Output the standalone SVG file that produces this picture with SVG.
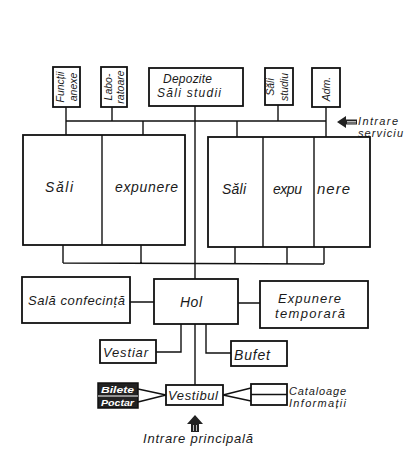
<svg xmlns="http://www.w3.org/2000/svg" width="407" height="458" viewBox="0 0 407 458">
<style>
.b{fill:#fff;stroke:#111;stroke-width:1.8}
.l{stroke:#111;stroke-width:1.4;fill:none}
text{font-family:"Liberation Sans",Arial,sans-serif;font-style:italic;fill:#1a1a1a}
.s10{font-size:10.5px}
.s11{font-size:11px}
.s12{font-size:12px}
.s13{font-size:13px}
.s14{font-size:14px}
.s15{font-size:15px}
.w{fill:#fff;font-size:9.5px;font-weight:bold}
</style>
<rect width="407" height="458" fill="#fff"/>
<g id="connectors">
<path class="l" d="M66,107V135M112,107V121M66,121H326M143,121V135M237,121V137M278,105V121M326,107V137"/>
<path class="l" d="M195,105V279M195,324V385"/>
<path class="l" d="M63,245V263M141,245V263M235,247V264M287,247V264M324,247V264M63,263L324,264"/>
<path class="l" d="M130,302H154M238,303H260"/>
<path class="l" d="M181,324V352H156M206,324V353H231"/>
<path class="l" d="M138,389L166,395L138,402M251,388L223,395L251,401"/>
</g>
<g id="funcții-anexe"><rect class="b" x="53" y="67" width="27" height="40"/>
<text class="s10" transform="translate(64,87) rotate(-90)" text-anchor="middle">Funcții</text>
<text class="s10" transform="translate(77,87) rotate(-90)" text-anchor="middle">anexe</text></g>
<g id="laboratoare"><rect class="b" x="101" y="67" width="26" height="40"/>
<text class="s10" transform="translate(112,87) rotate(-90)" text-anchor="middle">Labo-</text>
<text class="s10" transform="translate(124,87) rotate(-90)" text-anchor="middle">ratoare</text></g>
<g id="depozite"><rect class="b" x="149" y="68" width="94" height="38"/>
<text class="s12" x="163" y="83" textLength="49" lengthAdjust="spacing">Depozite</text>
<text class="s12" x="157" y="97" textLength="64" lengthAdjust="spacing">Săli studii</text></g>
<g id="sali-studiu"><rect class="b" x="265" y="68" width="28" height="37"/>
<text class="s10" transform="translate(274,87) rotate(-90)" text-anchor="middle">Săli</text>
<text class="s10" transform="translate(288,87) rotate(-90)" text-anchor="middle">studiu</text></g>
<g id="adm"><rect class="b" x="312" y="68" width="28" height="39"/>
<text class="s10" transform="translate(330,89) rotate(-90)" text-anchor="middle">Adm.</text></g>
<g id="intrare-serviciu">
<path d="M337,122L346,116V119.5H357V124.5H346V128Z" fill="#222"/>
<path d="M347,121.5H356M347,123H356" stroke="#fff" stroke-width="0.7"/>
<text class="s11" x="358" y="125" textLength="40" lengthAdjust="spacing">Intrare</text>
<text class="s11" x="358" y="137" textLength="45" lengthAdjust="spacing">serviciu</text></g>
<g id="sali-expunere-stanga"><rect class="b" x="23" y="135" width="162" height="110"/>
<path class="l" d="M102,135V245" stroke-width="1.8"/>
<text class="s14" x="45" y="192" textLength="28" lengthAdjust="spacing">Săli</text>
<text class="s14" x="115" y="192" textLength="63" lengthAdjust="spacing">expunere</text></g>
<g id="sali-expunere-dreapta"><rect class="b" x="208" y="137" width="162" height="110"/>
<path class="l" d="M263,137V247M314,137V247" stroke-width="1.8"/>
<text class="s14" x="222" y="194" textLength="24" lengthAdjust="spacing">Săli</text>
<text class="s14" x="273" y="194" textLength="29" lengthAdjust="spacing">expu</text>
<text class="s15" x="317" y="194" textLength="33" lengthAdjust="spacing">nere</text></g>
<g id="sala-conferinta"><rect class="b" x="22" y="277" width="108" height="46"/>
<text class="s13" x="28" y="305" textLength="97" lengthAdjust="spacing">Sală confecință</text></g>
<g id="hol"><rect class="b" x="154" y="279" width="84" height="45"/>
<text class="s14" x="180" y="307" textLength="22" lengthAdjust="spacing">Hol</text></g>
<g id="expunere-temporara"><rect class="b" x="260" y="281" width="108" height="47"/>
<text class="s13" x="278" y="303" textLength="63" lengthAdjust="spacing">Expunere</text>
<text class="s13" x="275" y="318" textLength="70" lengthAdjust="spacing">temporară</text></g>
<g id="vestiar"><rect class="b" x="100" y="340" width="56" height="23"/>
<text class="s13" x="103" y="357" textLength="45" lengthAdjust="spacing">Vestiar</text></g>
<g id="bufet"><rect class="b" x="231" y="341" width="56" height="25"/>
<text class="s14" x="234" y="360" textLength="36" lengthAdjust="spacing">Bufet</text></g>
<g id="bilete-poctar"><rect x="98" y="383" width="40" height="25" fill="#222" stroke="#111" stroke-width="1.5"/>
<path d="M98,396H138" stroke="#fff" stroke-width="1"/>
<text class="w" x="101" y="393" textLength="33" lengthAdjust="spacingAndGlyphs">Bilete</text>
<text class="w" x="101" y="406" textLength="33" lengthAdjust="spacingAndGlyphs">Poctar</text></g>
<g id="vestibul"><rect class="b" x="166" y="385" width="57" height="20"/>
<text class="s13" x="168" y="400" textLength="50" lengthAdjust="spacing">Vestibul</text></g>
<g id="cataloage-informatii"><rect class="b" x="251" y="384" width="36" height="21"/>
<path class="l" d="M251,394.5H287" stroke-width="1.8"/>
<text class="s11" x="289" y="395" textLength="57" lengthAdjust="spacing">Cataloage</text>
<text class="s11" x="289" y="407" textLength="57" lengthAdjust="spacing">Informații</text></g>
<g id="intrare-principala">
<path d="M195,415L203,424H199V432H191V424H187Z" fill="#222"/>
<path d="M193.5,425V431M196.5,425V431" stroke="#fff" stroke-width="0.7"/>
<text class="s13" x="143" y="443" textLength="110" lengthAdjust="spacing">Intrare principală</text></g>
</svg>
